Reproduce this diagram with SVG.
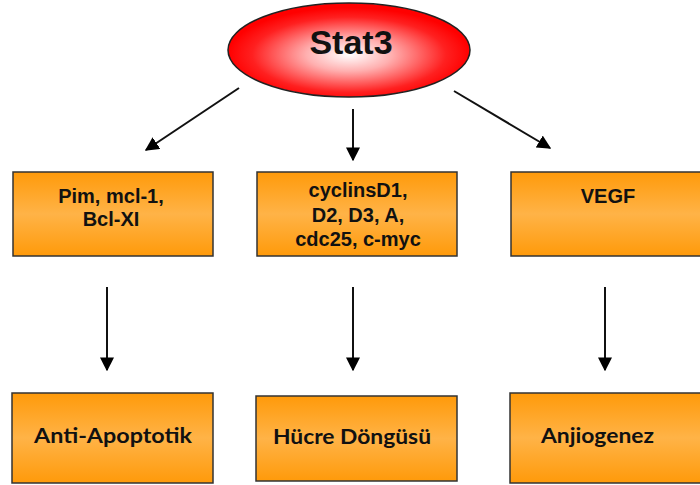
<svg xmlns="http://www.w3.org/2000/svg" width="700" height="485" viewBox="0 0 700 485">
  <defs>
    <radialGradient id="redGrad" cx="50%" cy="55%" r="50%">
      <stop offset="0" stop-color="#ffffff"/>
      <stop offset="0.35" stop-color="#ffb0b0"/>
      <stop offset="0.8" stop-color="#ff2020"/>
      <stop offset="1" stop-color="#ff0000"/>
    </radialGradient>
    <linearGradient id="orangeGrad" x1="0" y1="0" x2="0" y2="1">
      <stop offset="0" stop-color="#ff9a0a"/>
      <stop offset="0.5" stop-color="#ffb347"/>
      <stop offset="1" stop-color="#ff9a0a"/>
    </linearGradient>
    <marker id="arrow" viewBox="0 0 10 10" refX="9" refY="5" markerWidth="7" markerHeight="7" markerUnits="strokeWidth" orient="auto">
      <path d="M0,0 L10,5 L0,10 Z" fill="#000"/>
    </marker>
  </defs>
  <style>
    .box { fill: url(#orangeGrad); stroke: #333; stroke-width: 1.5; }
    .t1 { font-family: "Liberation Sans", Arial, sans-serif; font-weight: bold; font-size: 20px; fill: #111; text-anchor: middle; }
    .t2 { font-family: Lato, "Open Sans", sans-serif; font-weight: bold; font-size: 21px; fill: #111; }
    .conn { stroke: #111; stroke-width: 2; fill: none; marker-end: url(#arrow); }
  </style>
  <rect width="700" height="485" fill="#fff"/>

  <g id="connectors">
    <line class="conn" x1="239" y1="88" x2="146" y2="150"/>
    <line class="conn" x1="353" y1="109" x2="353" y2="160"/>
    <line class="conn" x1="454" y1="91" x2="550" y2="148"/>
    <line class="conn" x1="107" y1="287" x2="107" y2="370"/>
    <line class="conn" x1="353" y1="287" x2="353" y2="370"/>
    <line class="conn" x1="605" y1="287" x2="605" y2="370"/>
  </g>

  <g id="stat3">
    <ellipse cx="349" cy="50" rx="121" ry="47" fill="url(#redGrad)" stroke="#222" stroke-width="1.5"/>
    <text x="351" y="54" font-family="Liberation Sans, Arial, sans-serif" font-weight="bold" font-size="34" fill="#111" text-anchor="middle">Stat3</text>
  </g>

  <g id="pim">
    <rect class="box" x="13" y="172" width="200" height="84"/>
    <text class="t1" x="111" y="203">Pim, mcl-1,</text>
    <text class="t1" x="111" y="226">Bcl-XI</text>
  </g>

  <g id="cyclins">
    <rect class="box" x="257" y="172" width="200" height="84"/>
    <text class="t1" x="358" y="197">cyclinsD1,</text>
    <text class="t1" x="358" y="222">D2, D3, A,</text>
    <text class="t1" x="358" y="246">cdc25, c-myc</text>
  </g>

  <g id="vegf">
    <rect class="box" x="511" y="172" width="200" height="84"/>
    <text class="t1" x="608" y="203">VEGF</text>
  </g>

  <g id="antiapoptotik">
    <rect class="box" x="12" y="393" width="201" height="90"/>
    <text class="t2" x="34" y="443" textLength="158" lengthAdjust="spacingAndGlyphs">Anti-Apoptotik</text>
  </g>

  <g id="hucre">
    <rect class="box" x="256" y="396" width="201" height="85"/>
    <text class="t2" x="273" y="444" textLength="158" lengthAdjust="spacingAndGlyphs">Hücre Döngüsü</text>
  </g>

  <g id="anjiogenez">
    <rect class="box" x="510" y="393" width="201" height="90"/>
    <text class="t2" x="541" y="443" textLength="113" lengthAdjust="spacingAndGlyphs">Anjiogenez</text>
  </g>
</svg>
